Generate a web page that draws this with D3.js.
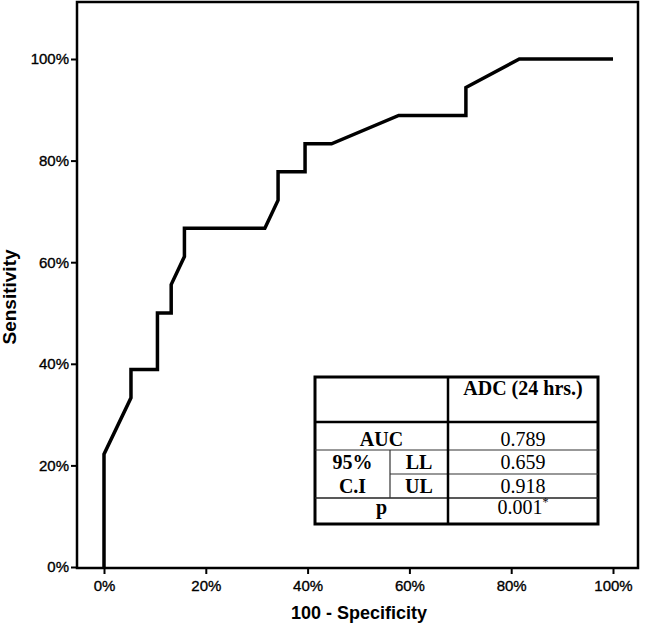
<!DOCTYPE html>
<html>
<head>
<meta charset="utf-8">
<script src="https://cdn.jsdelivr.net/npm/d3@7"></script>
<style>
  body { margin: 0; background: #fff; }
  svg { display: block; }
</style>
</head>
<body>
<svg width="645" height="626"></svg>
<script>
// ROC curve points (100 - specificity, sensitivity), in %
const fpr  = [0, 0, 5.3, 5.3, 10.5, 10.5, 13.2, 13.2, 15.8, 15.8, 31.6, 34.2, 34.2, 39.5, 39.5, 44.7, 57.9, 71.1, 71.1, 81.6, 100];
const sens = [0, 22.2, 33.3, 38.9, 38.9, 50, 50, 55.6, 61.1, 66.7, 66.7, 72.2, 77.8, 77.8, 83.3, 83.3, 88.9, 88.9, 94.4, 100, 100];

const ticks = [0, 20, 40, 60, 80, 100];

// summary table
const tableHeader = "ADC (24 hrs.)";
const ciLabels = ["95%", "C.I"];
const rowLabels = ["AUC", "LL", "UL", "p"];
const rowValues = ["0.789", "0.659", "0.918", "0.001"];

const svg = d3.select("svg");

const x = d3.scaleLinear().domain([0, 100]).range([104, 613]);
const y = d3.scaleLinear().domain([0, 100]).range([567, 59]);

// frame
svg.append("rect")
    .attr("x", 77).attr("y", 2)
    .attr("width", 561).attr("height", 566)
    .attr("fill", "none")
    .attr("stroke", "#000")
    .attr("stroke-width", 2.5);

// axes
const yAxis = svg.append("g")
    .attr("transform", "translate(77,0)")
    .call(d3.axisLeft(y).tickValues(ticks).tickFormat(d => d + "%").tickSize(6).tickPadding(2));
const xAxis = svg.append("g")
    .attr("transform", "translate(0,568)")
    .call(d3.axisBottom(x).tickValues(ticks).tickFormat(d => d + "%").tickSize(6).tickPadding(6));

[xAxis, yAxis].forEach(ax => {
  ax.select(".domain").remove();
  ax.selectAll(".tick line").attr("stroke", "#000").attr("stroke-width", 2);
  ax.selectAll(".tick text")
      .attr("fill", "#000")
      .attr("stroke", "#000")
      .attr("stroke-width", 0.35)
      .attr("font-family", "Liberation Sans, Arial, sans-serif")
      .attr("font-size", 15);
});

// axis titles
svg.append("text")
    .attr("x", 359).attr("y", 619)
    .attr("text-anchor", "middle")
    .attr("font-family", "Liberation Sans, Arial, sans-serif")
    .attr("font-weight", "bold")
    .attr("font-size", 18)
    .text("100 - Specificity");

svg.append("text")
    .attr("transform", "translate(16,297) rotate(-90)")
    .attr("text-anchor", "middle")
    .attr("font-family", "Liberation Sans, Arial, sans-serif")
    .attr("font-weight", "bold")
    .attr("font-size", 19)
    .text("Sensitivity");

// ROC curve
const pts = fpr.map((f, i) => [f, sens[i]]);
svg.append("path")
    .datum(pts)
    .attr("fill", "none")
    .attr("stroke", "#000")
    .attr("stroke-width", 3.5)
    .attr("stroke-linejoin", "miter")
    .attr("d", d3.line().x(d => x(d[0])).y(d => y(d[1])));

// table
const t = { left: 315, right: 598, top: 377, bottom: 524, mid: 448, inner: 390 };
const rowLines = [422, 450, 474, 498];
const tbl = svg.append("g").attr("font-family", "Liberation Serif, Times New Roman, serif").attr("font-size", 20);

tbl.append("rect")
    .attr("x", t.left).attr("y", t.top)
    .attr("width", t.right - t.left).attr("height", t.bottom - t.top)
    .attr("fill", "#fff")
    .attr("stroke", "#000")
    .attr("stroke-width", 3);

// horizontal rules
tbl.append("line").attr("x1", t.left).attr("x2", t.right).attr("y1", rowLines[0]).attr("y2", rowLines[0])
    .attr("stroke", "#000").attr("stroke-width", 2.5);
tbl.append("line").attr("x1", t.left).attr("x2", t.right).attr("y1", rowLines[1]).attr("y2", rowLines[1])
    .attr("stroke", "#333").attr("stroke-width", 1.2);
tbl.append("line").attr("x1", t.inner).attr("x2", t.right).attr("y1", rowLines[2]).attr("y2", rowLines[2])
    .attr("stroke", "#333").attr("stroke-width", 1.2);
tbl.append("line").attr("x1", t.left).attr("x2", t.right).attr("y1", rowLines[3]).attr("y2", rowLines[3])
    .attr("stroke", "#222").attr("stroke-width", 1.6);
// vertical rules
tbl.append("line").attr("x1", t.mid).attr("x2", t.mid).attr("y1", t.top).attr("y2", t.bottom)
    .attr("stroke", "#000").attr("stroke-width", 2.5);
tbl.append("line").attr("x1", t.inner).attr("x2", t.inner).attr("y1", rowLines[1]).attr("y2", rowLines[3])
    .attr("stroke", "#333").attr("stroke-width", 1.2);

const leftC = (t.left + t.mid) / 2;
const rightC = (t.mid + t.right) / 2;
const baselines = [446, 469, 493, 514];

tbl.append("text")
    .attr("x", rightC).attr("y", 395)
    .attr("text-anchor", "middle").attr("font-weight", "bold")
    .text(tableHeader);

// left labels
const labelX = [leftC, (t.inner + t.mid) / 2, (t.inner + t.mid) / 2, leftC];
tbl.selectAll("text.lbl")
  .data(rowLabels)
  .join("text")
    .attr("class", "lbl")
    .attr("x", (d, i) => labelX[i])
    .attr("y", (d, i) => baselines[i])
    .attr("text-anchor", "middle")
    .attr("font-weight", "bold")
    .text(d => d);

tbl.selectAll("text.ci")
  .data(ciLabels)
  .join("text")
    .attr("class", "ci")
    .attr("x", (t.left + t.inner) / 2)
    .attr("y", (d, i) => baselines[i + 1])
    .attr("text-anchor", "middle")
    .attr("font-weight", "bold")
    .text(d => d);

// values
tbl.selectAll("text.val")
  .data(rowValues)
  .join("text")
    .attr("class", "val")
    .attr("x", rightC)
    .attr("y", (d, i) => baselines[i])
    .attr("text-anchor", "middle")
    .each(function(d, i) {
      const el = d3.select(this);
      el.append("tspan").text(d);
      if (i === rowValues.length - 1) {
        el.append("tspan").attr("font-size", 12).attr("dy", -8).text("*");
      }
    });
</script>
</body>
</html>
